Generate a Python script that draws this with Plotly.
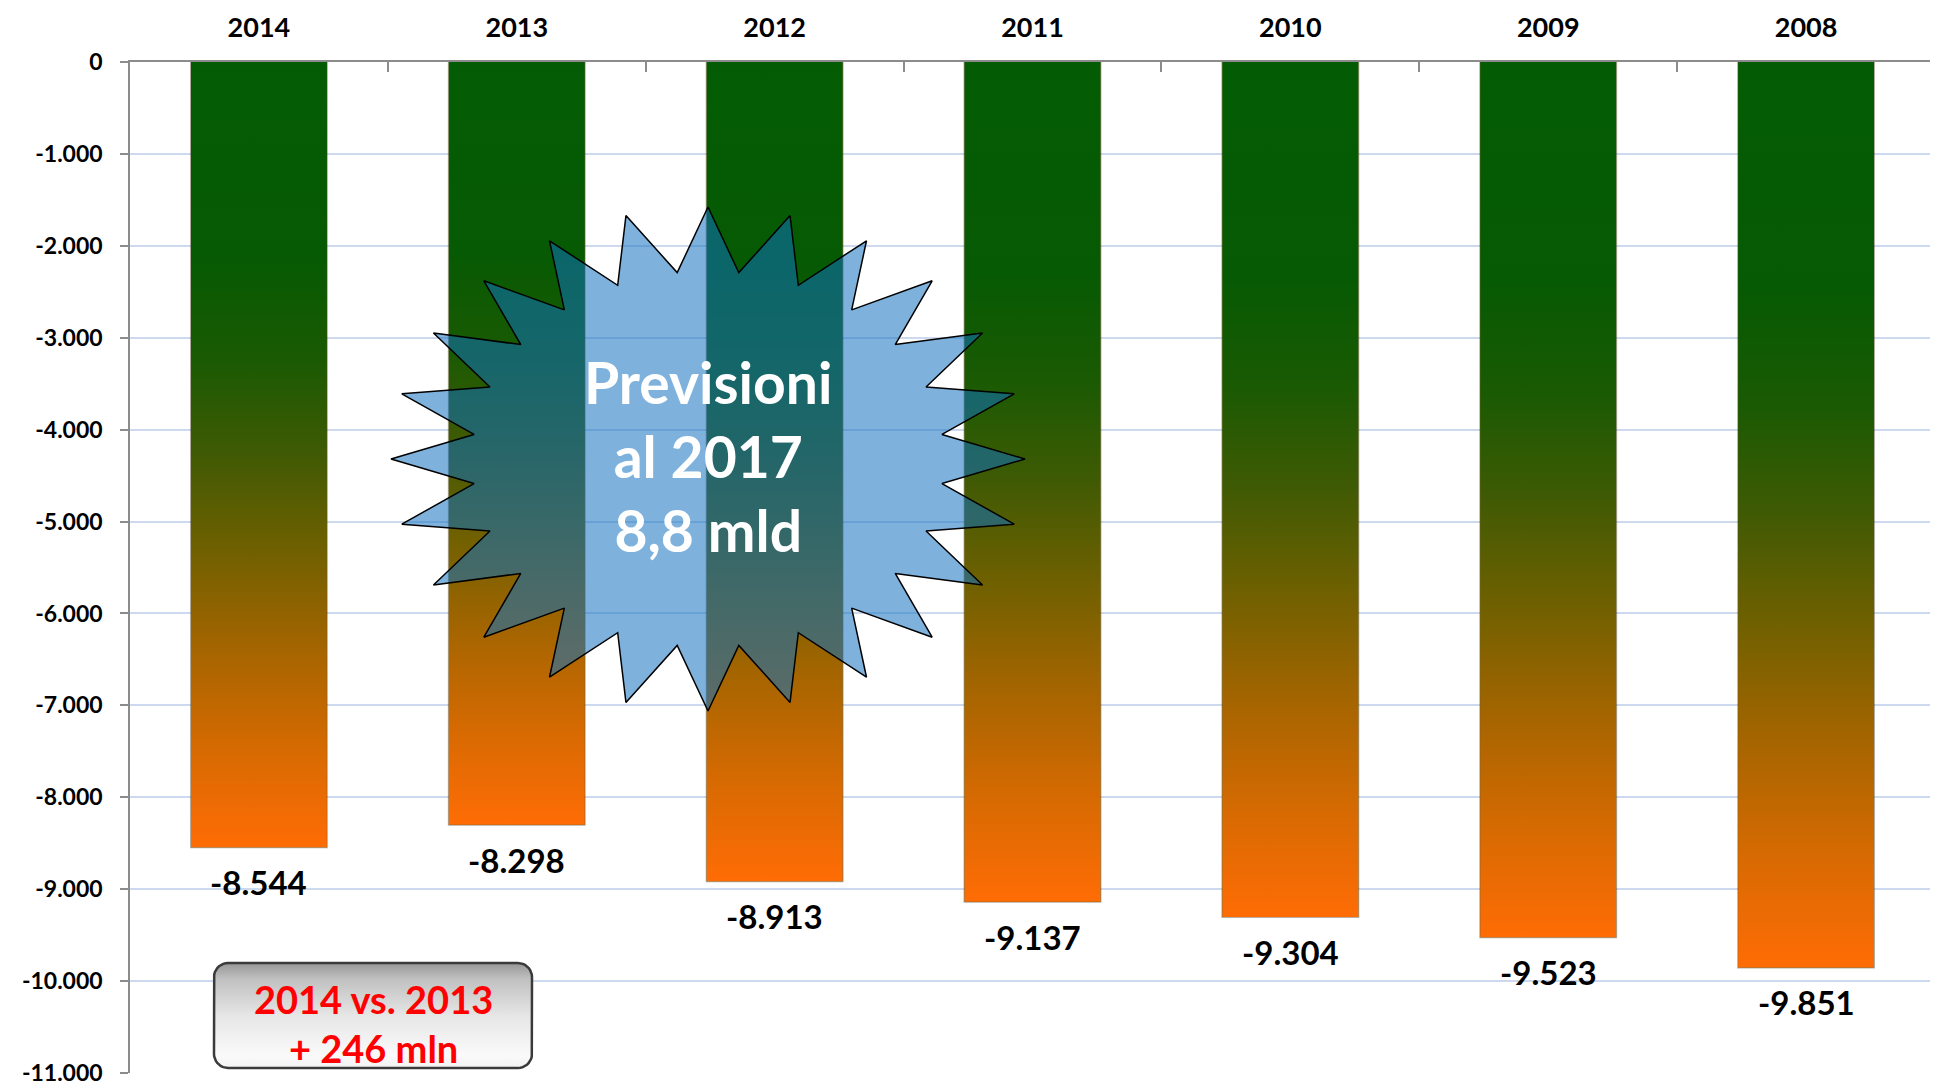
import numpy as np
import plotly.graph_objects as go

# dati (milioni di euro)
anni = ["2014", "2013", "2012", "2011", "2010", "2009", "2008"]
saldi = [-8544, -8298, -8913, -9137, -9304, -9523, -9851]
y_ticks = [0, -1000, -2000, -3000, -4000, -5000, -6000, -7000, -8000, -9000, -10000, -11000]
y_tick_labels = ["0", "-1.000", "-2.000", "-3.000", "-4.000", "-5.000", "-6.000",
                 "-7.000", "-8.000", "-9.000", "-10.000", "-11.000"]
testo_stella = "Previsioni<br>al 2017<br>8,8 mld"
testo_box = "2014 vs. 2013<br>+ 246 mln"


def fmt(v):
    return f"{v:,}".replace(",", ".")


FONT = "Lato"
# la pagina ha 8px di margine sul body: figura piu' piccola di 8px
W = 1930
H = 1080
L, R, T, B = 122, 3, 54, 15
bar_w = 0.527

# sfumatura verde -> arancio (0 = fondo barra)
grad = [[0.0, "#ff6c05"], [0.12, "#d86a02"], [0.25, "#a66500"], [0.38, "#6f6000"],
        [0.5, "#405a04"], [0.62, "#1a5a03"], [0.75, "#065a03"], [1.0, "#035c03"]]

fig = go.Figure()

xs = list(range(len(anni)))
fig.add_trace(go.Bar(x=xs, y=saldi, width=bar_w, marker=dict(color="#7a6000",
                     line=dict(color="rgba(40,30,0,0.35)", width=2)),
                     hoverinfo="skip", showlegend=False))

for i, v in enumerate(saldi):
    x0, x1 = i - bar_w / 2, i + bar_w / 2
    fig.add_trace(go.Scatter(
        x=[x0, x1, x1, x0, x0], y=[0, 0, v, v, 0], mode="lines",
        fill="toself", fillgradient=dict(type="vertical", colorscale=grad),
        line=dict(width=0), hoverinfo="skip", showlegend=False))

# overlay in coordinate pixel (dell'immagine originale) per le forme decorative
PX0, PX1, PY0, PY1 = 130, 1935, 62, 1073
cx, cy = 708, 459
n = 24
k = np.arange(2 * n + 1)
ang = np.linspace(-np.pi / 2, 3 * np.pi / 2, 2 * n + 1)
rx = np.where(k % 2 == 0, 317, 236)
ry = np.where(k % 2 == 0, 252, 188)
sx = cx + rx * np.cos(ang)
sy = cy + ry * np.sin(ang)
fig.add_trace(go.Scatter(x=sx, y=sy, xaxis="x2", yaxis="y2", mode="lines",
                         fill="toself", fillcolor="rgba(16,113,193,0.54)",
                         line=dict(color="black", width=1.5),
                         hoverinfo="skip", showlegend=False))

# box arrotondato grigio
bx0, bx1, by0, by1, rr = 214, 532, 963, 1068, 14
t = np.linspace(0, np.pi / 2, 10)
px = np.concatenate([bx1 - rr + rr * np.sin(t), bx1 - rr + rr * np.cos(t),
                     bx0 + rr - rr * np.sin(t), bx0 + rr - rr * np.cos(t)])
py = np.concatenate([by0 + rr - rr * np.cos(t), by1 - rr + rr * np.sin(t),
                     by1 - rr + rr * np.cos(t), by0 + rr - rr * np.sin(t)])
px = np.append(px, px[0])
py = np.append(py, py[0])
fig.add_trace(go.Scatter(x=px, y=py, xaxis="x2", yaxis="y2", mode="lines",
                         fill="toself",
                         fillgradient=dict(type="vertical", colorscale=[
                             [0, "#f2f2f2"], [0.12, "#fafafa"], [0.5, "#e6e6e6"],
                             [0.85, "#c0c0c0"], [1, "#969696"]]),
                         line=dict(color="#3a3a3a", width=2.5),
                         hoverinfo="skip", showlegend=False))

for i, v in enumerate(saldi):
    fig.add_annotation(x=i, y=v, text=fmt(v), showarrow=False, yanchor="top", yshift=-13,
                       font=dict(family=FONT, size=33, color="black", weight="bold"))

fig.add_annotation(x=cx, y=cy - 3, xref="x2", yref="y2", text=testo_stella, showarrow=False,
                   font=dict(family=FONT, size=57, color="white", weight="bold"))
fig.add_annotation(x=373, y=1023, xref="x2", yref="y2", text=testo_box, showarrow=False,
                   font=dict(family=FONT, size=38, color="#ff0000", weight="bold"))

fig.update_layout(
    width=W, height=H,
    margin=dict(l=L, r=R, t=T, b=B),
    paper_bgcolor="white", plot_bgcolor="white",
    barmode="overlay",
    xaxis=dict(
        range=[-0.5, len(anni) - 0.5], side="top", automargin=False,
        tickvals=xs, ticktext=anni, ticks="inside", ticklen=0,
        minor=dict(tickvals=[i + 0.5 for i in xs], ticks="inside", ticklen=10,
                   tickcolor="#8c8c8c", tickwidth=1.5, showgrid=False),
        showline=True, linecolor="#8c8c8c", linewidth=1.5, mirror=False,
        showgrid=False, zeroline=False, ticklabelstandoff=12,
        tickfont=dict(family=FONT, size=27, color="black", weight="bold"),
    ),
    yaxis=dict(
        range=[-11000, 0], tickvals=y_ticks, ticktext=y_tick_labels, automargin=False,
        ticks="outside", ticklen=8, tickcolor="#8c8c8c", tickwidth=1.5,
        showline=True, linecolor="#8c8c8c", linewidth=1.5,
        showgrid=True, gridcolor="#ccd9ef", gridwidth=1.5, zeroline=False,
        ticklabelstandoff=13, ticklabeloverflow="allow",
        tickfont=dict(family=FONT, size=23, color="black", weight="bold"),
    ),
    xaxis2=dict(range=[PX0, PX1], overlaying="x", visible=False, fixedrange=True),
    yaxis2=dict(range=[PY1, PY0], overlaying="y", visible=False, fixedrange=True),
)

fig.write_html("out.html")
